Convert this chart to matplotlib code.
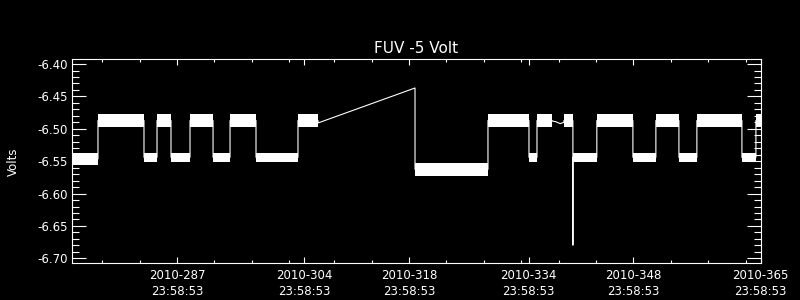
import matplotlib
matplotlib.use("Agg")
import matplotlib.pyplot as plt
from matplotlib.ticker import FixedLocator, MultipleLocator

# ---- data (day-of-year 2010, fractional) ----
TFRAC = (23 * 3600 + 58 * 60 + 53) / 86400.0   # 23:58:53

seg_start = [273 + TFRAC, 277.43, 283.58, 285.32, 287.19, 289.73, 292.81, 295.08,
             298.55, 304.16, 319.80, 329.55, 335.03, 336.10, 339.70, 340.90,
             344.10, 348.92, 351.99, 355.07, 357.47, 363.49, 365.36]
seg_end = [277.43, 283.58, 285.32, 287.19, 289.73, 292.81, 295.08, 298.55,
           304.16, 306.84, 329.55, 335.03, 336.10, 338.10, 340.90, 344.10,
           348.92, 351.99, 355.07, 357.47, 363.49, 365.36, 366.10]
seg_hi = [-6.5374, -6.4772, -6.5369, -6.4772, -6.5369, -6.4772, -6.5369, -6.4772,
          -6.5369, -6.4772, -6.5524, -6.4772, -6.5369, -6.4772, -6.4772, -6.5369,
          -6.4772, -6.5369, -6.4772, -6.5369, -6.4772, -6.5369, -6.4772]
seg_lo = [-6.5559, -6.4973, -6.5513, -6.4973, -6.5513, -6.4973, -6.5513, -6.4973,
          -6.5513, -6.4973, -6.5729, -6.4973, -6.5513, -6.4973, -6.4973, -6.5513,
          -6.4973, -6.5513, -6.4973, -6.5513, -6.4973, -6.5513, -6.4973]

gap_days = [306.84, 319.80]
gap_volts = [-6.491, -6.437]
sparse_days = [338.10, 338.60, 339.20, 339.70]
sparse_volts = [-6.488, -6.489, -6.492, -6.490]
spike_day = 340.90
spike_volt = -6.6795

major_days = [287, 304, 318, 334, 348, 365]
major_labels = ["2010-%d\n23:58:53" % d for d in major_days]
minor_days = [277, 282, 292, 297, 302, 308, 313, 323, 328, 333, 338, 343, 353, 358, 363]

x_range = [273 + TFRAC, 365 + TFRAC]
y_range = [-6.7077, -6.3927]

# ---- figure ----
fig = plt.figure(figsize=(8, 3), dpi=100, facecolor="black")
ax = fig.add_axes([72.3 / 800, 1 - 263.3 / 300, (760.7 - 72.3) / 800, (263.3 - 59.3) / 300])
ax.set_facecolor("black")

W = "white"
# noisy bands drawn as filled strips
for s, e, lo, hi in zip(seg_start, seg_end, seg_lo, seg_hi):
    ax.fill_between([s, e], [lo, lo], [hi, hi], color=W, lw=0)

# connecting trace
px, py = [], []
for i, (s, e, lo, hi) in enumerate(zip(seg_start, seg_end, seg_lo, seg_hi)):
    mid = (lo + hi) / 2
    px += [s, e]
    py += [mid, mid]
    if i == 9:
        px += gap_days
        py += gap_volts
    if i == 13:
        px += sparse_days
        py += sparse_volts
    if i == 14:
        px += [spike_day]
        py += [spike_volt]
ax.plot(px, py, color=W, lw=0.8)

ax.set_xlim(x_range)
ax.set_ylim(y_range)

ax.xaxis.set_major_locator(FixedLocator([d + TFRAC for d in major_days]))
ax.xaxis.set_minor_locator(FixedLocator([d + TFRAC for d in minor_days]))
ax.set_xticklabels(major_labels)
ax.yaxis.set_major_locator(MultipleLocator(0.05))
ax.yaxis.set_minor_locator(MultipleLocator(0.01))
ax.yaxis.set_major_formatter(matplotlib.ticker.FormatStrFormatter("%.2f"))

for sp in ax.spines.values():
    sp.set_color(W)
    sp.set_linewidth(0.8)

ax.tick_params(which="both", direction="in", colors=W, width=0.8,
               top=True, right=True, labelsize=8.5)
ax.tick_params(axis="y", which="major", length=10.3, pad=3)
ax.tick_params(axis="y", which="minor", length=5.2)
ax.tick_params(axis="x", which="major", length=4.3, pad=4)
ax.tick_params(axis="x", which="minor", length=2.2)
for lab in ax.get_xticklabels():
    lab.set_linespacing(1.35)

ax.set_ylabel("Volts", color=W, fontsize=8.5, labelpad=13)
fig.text(416.5 / 800, 1 - 52.7 / 300, "FUV -5 Volt", color=W, fontsize=11,
         ha="center", va="baseline")

fig.savefig("out.png", dpi=100, facecolor="black")
